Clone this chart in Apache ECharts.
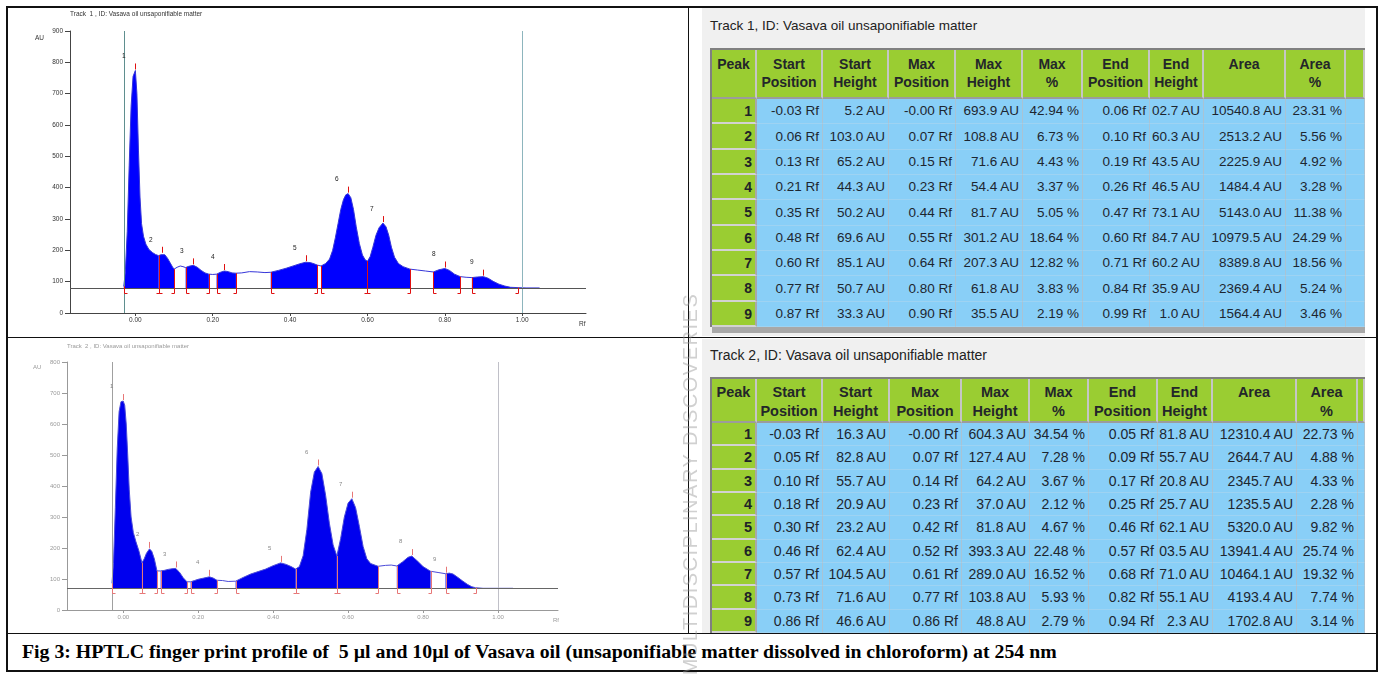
<!DOCTYPE html>
<html><head><meta charset="utf-8"><title>HPTLC finger print profile</title>
<script src="https://cdn.jsdelivr.net/npm/echarts@6.0.0/dist/echarts.min.js"></script>
<style>
html,body{margin:0;padding:0;background:#fff;}
body{width:1381px;height:675px;position:relative;overflow:hidden;font-family:"Liberation Sans",Arial,sans-serif;}
.a{position:absolute;box-sizing:border-box;}
.hd{position:absolute;box-sizing:border-box;background:#9acd32;border-right:2px solid #c6c6c6;border-bottom:2px solid #9c9c9c;font-weight:bold;color:#23262a;text-align:center;white-space:nowrap;}
.pk{position:absolute;box-sizing:border-box;background:#9acd32;border-right:2px solid #a8a8a8;border-bottom:2px solid #d2d2d2;font-weight:bold;color:#1e2328;text-align:right;padding-right:3px;white-space:nowrap;}
.dc{position:absolute;box-sizing:border-box;background:#89cff7;border-right:1px solid #a9c3d4;border-bottom:1px solid #9ed3f2;color:#1d2630;text-align:right;padding-right:3px;white-space:nowrap;}
.ttl{position:absolute;color:#222;white-space:nowrap;}
.line{position:absolute;background:#111;z-index:20;}
</style></head>
<body>
<div id="c1" class="a" style="left:0;top:0;width:689px;height:337px;"></div>
<div id="c2" class="a" style="left:0;top:339px;width:689px;height:294px;"></div>
<div id="tbl1"></div>
<div id="tbl2"></div>
<div class="a" style="left:22px;top:639px;font:bold 19.8px/24px 'Liberation Serif','Times New Roman',serif;color:#000;white-space:pre;z-index:15;">Fig 3: HPTLC finger print profile of  5 µl and 10µl of Vasava oil (unsaponifiable matter dissolved in chloroform) at 254 nm</div>
<div class="a" style="left:6px;top:6px;width:1372px;height:666px;border:2px solid #111;z-index:20;"></div>
<div class="line" style="left:688px;top:7px;width:1px;height:626px;"></div>
<div class="line" style="left:7px;top:337px;width:1370px;height:1px;"></div>
<div class="line" style="left:7px;top:633px;width:1370px;height:1px;"></div>
<div class="a" style="left:490px;top:471px;width:400px;height:26px;line-height:26px;text-align:center;transform:rotate(-90deg);transform-origin:50% 50%;font-size:20px;letter-spacing:1.5px;color:rgba(150,150,150,0.45);z-index:30;white-space:nowrap;">MULTIDISCIPLINARY DISCOVERIES</div>
<script>
// ---------------- DATA ----------------
const peakNumbers = [1, 2, 3, 4, 5, 6, 7, 8, 9];
const headerTop = ['Peak', 'Start', 'Start', 'Max', 'Max', 'Max', 'End', 'End', 'Area', 'Area', ''];
const headerBottom = ['', 'Position', 'Height', 'Position', 'Height', '%', 'Position', 'Height', '', '%', ''];
const xTickValues = [0, 0.2, 0.4, 0.6, 0.8, 1.0];

// Track 1 table (5 µl)
const t1Title = 'Track 1, ID: Vasava oil unsaponifiable matter';
const t1StartPos = ['-0.03', '0.06', '0.13', '0.21', '0.35', '0.48', '0.60', '0.77', '0.87'];
const t1StartH = ['5.2', '103.0', '65.2', '44.3', '50.2', '69.6', '85.1', '50.7', '33.3'];
const t1MaxPos = ['-0.00', '0.07', '0.15', '0.23', '0.44', '0.55', '0.64', '0.80', '0.90'];
const t1MaxH = ['693.9', '108.8', '71.6', '54.4', '81.7', '301.2', '207.3', '61.8', '35.5'];
const t1MaxPct = ['42.94', '6.73', '4.43', '3.37', '5.05', '18.64', '12.82', '3.83', '2.19'];
const t1EndPos = ['0.06', '0.10', '0.19', '0.26', '0.47', '0.60', '0.71', '0.84', '0.99'];
const t1EndH = ['02.7', '60.3', '43.5', '46.5', '73.1', '84.7', '60.2', '35.9', '1.0'];
const t1Area = ['10540.8', '2513.2', '2225.9', '1484.4', '5143.0', '10979.5', '8389.8', '2369.4', '1564.4'];
const t1AreaPct = ['23.31', '5.56', '4.92', '3.28', '11.38', '24.29', '18.56', '5.24', '3.46'];

// Track 2 table (10 µl)
const t2Title = 'Track 2, ID: Vasava oil unsaponifiable matter';
const t2StartPos = ['-0.03', '0.05', '0.10', '0.18', '0.30', '0.46', '0.57', '0.73', '0.86'];
const t2StartH = ['16.3', '82.8', '55.7', '20.9', '23.2', '62.4', '104.5', '71.6', '46.6'];
const t2MaxPos = ['-0.00', '0.07', '0.14', '0.23', '0.42', '0.52', '0.61', '0.77', '0.86'];
const t2MaxH = ['604.3', '127.4', '64.2', '37.0', '81.8', '393.3', '289.0', '103.8', '48.8'];
const t2MaxPct = ['34.54', '7.28', '3.67', '2.12', '4.67', '22.48', '16.52', '5.93', '2.79'];
const t2EndPos = ['0.05', '0.09', '0.17', '0.25', '0.46', '0.57', '0.68', '0.82', '0.94'];
const t2EndH = ['81.8', '55.7', '20.8', '25.7', '62.1', '03.5', '71.0', '55.1', '2.3'];
const t2Area = ['12310.4', '2644.7', '2345.7', '1235.5', '5320.0', '13941.4', '10464.1', '4193.4', '1702.8'];
const t2AreaPct = ['22.73', '4.88', '4.33', '2.28', '9.82', '25.74', '19.32', '7.74', '3.14'];

// Densitogram baselines (AU)
const track1Baseline = 80;
const track2Baseline = 70;

// Densitogram profile of track 1: [Rf, AU]
const track1Profile = [
  [-0.030, 85], [-0.026, 130], [-0.021, 260], [-0.016, 470], [-0.011, 660], [-0.006, 755], [0.000, 774],
  [0.004, 700], [0.008, 520], [0.012, 370], [0.016, 285], [0.021, 245], [0.027, 220], [0.035, 203],
  [0.044, 193], [0.052, 187], [0.060, 183], [0.066, 186], [0.070, 189], [0.076, 186], [0.083, 175],
  [0.090, 160], [0.096, 147], [0.100, 140], [0.108, 146], [0.116, 150], [0.123, 148], [0.130, 145],
  [0.138, 149], [0.150, 152], [0.160, 146], [0.170, 136], [0.180, 128], [0.190, 124], [0.200, 123],
  [0.210, 124], [0.220, 130], [0.230, 134], [0.240, 132], [0.250, 128], [0.260, 127], [0.275, 128],
  [0.295, 132], [0.315, 131], [0.335, 129], [0.350, 130], [0.370, 136], [0.390, 143], [0.410, 151],
  [0.425, 157], [0.440, 162], [0.452, 161], [0.462, 157], [0.470, 153], [0.480, 150], [0.492, 158],
  [0.502, 172], [0.510, 200], [0.517, 240], [0.524, 285], [0.531, 330], [0.538, 362], [0.544, 377],
  [0.550, 381], [0.557, 368], [0.564, 330], [0.571, 275], [0.579, 222], [0.587, 185], [0.594, 170],
  [0.600, 165], [0.607, 180], [0.614, 210], [0.622, 248], [0.630, 272], [0.640, 287], [0.648, 275],
  [0.655, 248], [0.662, 210], [0.670, 178], [0.680, 158], [0.692, 148], [0.710, 140], [0.730, 137],
  [0.750, 134], [0.770, 131], [0.785, 138], [0.800, 142], [0.812, 136], [0.825, 124], [0.840, 116],
  [0.855, 114], [0.870, 113], [0.885, 115], [0.900, 116], [0.912, 111], [0.925, 101], [0.940, 92],
  [0.955, 86], [0.970, 82], [0.990, 81], [1.010, 80], [1.045, 80]
];

// Densitogram profile of track 2: [Rf, AU]
const track2Profile = [
  [-0.030, 86], [-0.026, 150], [-0.021, 330], [-0.016, 520], [-0.011, 640], [-0.006, 672], [0.000, 674],
  [0.004, 660], [0.008, 600], [0.012, 500], [0.016, 390], [0.021, 300], [0.027, 250], [0.034, 220],
  [0.042, 190], [0.050, 152], [0.056, 165], [0.062, 183], [0.070, 197], [0.076, 190], [0.083, 165],
  [0.090, 126], [0.095, 126], [0.100, 126], [0.110, 128], [0.120, 131], [0.130, 133], [0.140, 134],
  [0.150, 122], [0.160, 104], [0.170, 91], [0.175, 90], [0.180, 91], [0.190, 95], [0.200, 99],
  [0.215, 103], [0.230, 107], [0.240, 103], [0.250, 96], [0.265, 95], [0.280, 92], [0.300, 93],
  [0.320, 105], [0.340, 116], [0.360, 124], [0.380, 132], [0.400, 143], [0.420, 152], [0.435, 147],
  [0.448, 140], [0.460, 132], [0.470, 140], [0.480, 175], [0.490, 260], [0.500, 380], [0.510, 445],
  [0.520, 463], [0.530, 440], [0.540, 370], [0.550, 280], [0.560, 210], [0.570, 174], [0.580, 230],
  [0.590, 300], [0.600, 345], [0.610, 359], [0.620, 330], [0.630, 270], [0.640, 205], [0.650, 165],
  [0.660, 150], [0.680, 141], [0.700, 144], [0.715, 145], [0.730, 142], [0.745, 155], [0.760, 170],
  [0.770, 174], [0.785, 158], [0.800, 140], [0.820, 125], [0.840, 121], [0.860, 117], [0.870, 119],
  [0.880, 116], [0.893, 105], [0.905, 94], [0.918, 83], [0.930, 75], [0.940, 72], [0.960, 70],
  [1.000, 70], [1.040, 70]
];

// ---------------- CHARTS ----------------
const FONT = '"Liberation Sans", Arial, sans-serif';
function nearestY(profile, x) {
  let best = profile[0];
  profile.forEach(p => { if (Math.abs(p[0] - x) < Math.abs(best[0] - x)) best = p; });
  return best[1];
}

function makeOption(cfg) {
  const series = [];
  cfg.startPos.forEach((sp, i) => {
    const s = parseFloat(sp), e = parseFloat(cfg.endPos[i]);
    series.push({
      type: 'line', data: cfg.profile.filter(p => p[0] >= s - 1e-9 && p[0] <= e + 1e-9),
      symbol: 'none', silent: true, animation: false, z: 2,
      lineStyle: { width: 0, opacity: 0 },
      areaStyle: { color: cfg.fill, opacity: 1, origin: cfg.baseline }
    });
  });
  series.push({
    type: 'line', data: cfg.profile, symbol: 'none', silent: true, animation: false, z: 3,
    lineStyle: { color: cfg.lineColor, width: 1 },
    markLine: {
      silent: true, symbol: 'none', animation: false, label: { show: false },
      data: [
        { xAxis: parseFloat(cfg.startPos[0]), lineStyle: { color: cfg.vColor1, width: 1, type: 'solid' } },
        { xAxis: xTickValues[xTickValues.length - 1], lineStyle: { color: cfg.vColor2, width: 1, type: 'solid' } },
        { yAxis: cfg.baseline, lineStyle: { color: cfg.baseColor, width: 1, type: 'solid' } }
      ]
    }
  });
  // boundary markers: [Rf, AU on curve, foot direction]
  const bounds = [];
  cfg.startPos.forEach((sp, i) => {
    const s = parseFloat(sp), e = parseFloat(cfg.endPos[i]);
    bounds.push([s, nearestY(cfg.profile, s), 1]);
    bounds.push([e, nearestY(cfg.profile, e), -1]);
  });
  series.push({
    type: 'custom', name: 'bounds', data: bounds, clip: false, z: 6, silent: true, animation: false,
    itemStyle: { color: cfg.red },
    encode: { x: 0, y: 1 },
    renderItem: (params, api) => {
      const bY = Math.round(api.coord([0, cfg.baseline])[1]) + 0.5;
      const p = api.coord([api.value(0), api.value(1)]);
      const x = Math.round(p[0]) + 0.5;
      const d = api.value(2);
      return {
        type: 'polyline',
        shape: { points: [[x, p[1]], [x, bY + 5], [x + 3 * d, bY + 5]] },
        style: { stroke: cfg.red, lineWidth: 1, fill: 'none' }
      };
    }
  });
  // max ticks and peak numbers
  const maxima = cfg.maxPos.map((mp, i) => {
    const m = parseFloat(mp);
    return [m, nearestY(cfg.profile, m), peakNumbers[i]];
  });
  series.push({
    type: 'custom', name: 'maxima', data: maxima, clip: false, z: 6, silent: true, animation: false,
    itemStyle: { color: cfg.red },
    encode: { x: 0, y: 1 },
    renderItem: (params, api) => {
      const m = api.coord([api.value(0), api.value(1)]);
      const x = Math.round(m[0]) + 0.5;
      return {
        type: 'polyline',
        shape: { points: [[x, m[1] - 1], [x, m[1] - 7]] },
        style: { stroke: cfg.red, lineWidth: 1, fill: 'none' },
        textContent: {
          style: { text: String(api.value(2)), fontSize: cfg.small, fill: cfg.labelColor, fontFamily: FONT }
        },
        textConfig: { position: [-11, -8] }
      };
    }
  });
  return {
    backgroundColor: 'transparent',
    animation: false,
    grid: cfg.grid,
    graphic: [
      { type: 'text', left: cfg.titlePos[0], top: cfg.titlePos[1], style: { text: cfg.title, fontSize: cfg.small, fill: cfg.textColor, fontFamily: FONT } },
      { type: 'text', left: cfg.auPos[0], top: cfg.auPos[1], style: { text: 'AU', fontSize: cfg.small, fill: cfg.textColor, fontFamily: FONT } },
      { type: 'text', left: cfg.rfPos[0], top: cfg.rfPos[1], style: { text: 'Rf', fontSize: cfg.small, fill: cfg.textColor, fontFamily: FONT } }
    ],
    xAxis: {
      type: 'value', min: cfg.xMin, max: cfg.xMax,
      axisLine: { show: true, onZero: false, lineStyle: { color: cfg.axisColor, width: 1 } },
      axisTick: { show: true, customValues: xTickValues, length: 3, lineStyle: { color: cfg.axisColor } },
      axisLabel: { customValues: xTickValues, formatter: v => v.toFixed(2), fontSize: cfg.small, color: cfg.textColor, margin: 4, fontFamily: FONT },
      splitLine: { show: false }
    },
    yAxis: {
      type: 'value', min: 0, max: cfg.yMax, interval: 100,
      axisLine: { show: true, onZero: false, lineStyle: { color: cfg.axisColor, width: 1 } },
      axisTick: { show: true, length: 5, lineStyle: { color: cfg.axisColor } },
      axisLabel: { fontSize: cfg.small, color: cfg.textColor, margin: 7, fontFamily: FONT },
      splitLine: { show: false }
    },
    series
  };
}

const chart1 = echarts.init(document.getElementById('c1'), null, { renderer: 'canvas' });
chart1.setOption(makeOption({
  profile: track1Profile, startPos: t1StartPos, endPos: t1EndPos, maxPos: t1MaxPos, baseline: track1Baseline,
  grid: { left: 70, top: 31, width: 516, height: 282 }, xMin: -0.169, xMax: 1.165, yMax: 900,
  title: 'Track  1 , ID: Vasava oil unsaponifiable matter', titlePos: [70, 11], auPos: [35, 35], rfPos: [579, 321],
  fill: '#0000ff', lineColor: '#3535d8', vColor1: '#5f8f8f', vColor2: '#8db5bd', baseColor: '#555',
  red: '#e01010', labelColor: '#222', textColor: '#333', axisColor: '#444', small: 6.5
}));

const chart2 = echarts.init(document.getElementById('c2'), null, { renderer: 'canvas' });
chart2.setOption(makeOption({
  profile: track2Profile, startPos: t2StartPos, endPos: t2EndPos, maxPos: t2MaxPos, baseline: track2Baseline,
  grid: { left: 67, top: 23, width: 491, height: 248 }, xMin: -0.150, xMax: 1.160, yMax: 800,
  title: 'Track  2 , ID: Vasava oil unsaponifiable matter', titlePos: [67, 4], auPos: [33, 25], rfPos: [553, 278],
  fill: '#0000ee', lineColor: '#4a4ad8', vColor1: '#a0a0a0', vColor2: '#c0c0c8', baseColor: '#666',
  red: '#e77777', labelColor: '#888', textColor: '#9a9a9a', axisColor: '#999', small: 6
}));

// ---------------- TABLES ----------------
function buildTable(cfg) {
  const root = document.getElementById(cfg.id);
  const add = (cls, x, y, w, h, html, extra) => {
    const d = document.createElement('div');
    d.className = cls;
    d.style.left = x + 'px'; d.style.top = y + 'px'; d.style.width = w + 'px'; d.style.height = h + 'px';
    if (extra) Object.assign(d.style, extra);
    d.innerHTML = html;
    root.appendChild(d);
    return d;
  };
  add('a', cfg.panel[0], cfg.panel[1], cfg.panel[2], cfg.panel[3], '', { background: '#f0f0f0' });
  add('ttl', cfg.titleX, cfg.titleY, 400, 18, cfg.title, { fontSize: cfg.titleSize + 'px', lineHeight: '18px' });
  const cols = cfg.cols;
  const right = cols[cols.length - 1];
  add('a', cols[0], cfg.hTop - 2, right - cols[0], 2, '', { background: '#808080' });
  add('a', cols[0] - 2, cfg.hTop - 2, 2, cfg.bodyBottom - cfg.hTop + 2, '', { background: '#808080' });
  for (let c = 0; c < cols.length - 1; c++) {
    add('hd', cols[c], cfg.hTop, cols[c + 1] - cols[c], cfg.hBot - cfg.hTop,
      headerTop[c] + '<br>' + headerBottom[c],
      { fontSize: cfg.headSize + 'px', lineHeight: cfg.headLine + 'px', paddingTop: cfg.headPad + 'px' });
  }
  for (let r = 0; r < cfg.rows.length; r++) {
    const y0 = Math.round(cfg.hBot + r * cfg.rowH);
    const y1 = Math.round(cfg.hBot + (r + 1) * cfg.rowH);
    const h = y1 - y0;
    const row = cfg.rows[r];
    for (let c = 0; c < cols.length - 1; c++) {
      const cls = c === 0 ? 'pk' : 'dc';
      add(cls, cols[c], y0, cols[c + 1] - cols[c], h, row[c] === undefined ? '' : row[c],
        { fontSize: (c === 0 ? cfg.pkSize : cfg.dataSize) + 'px', lineHeight: (h - 1) + 'px' });
    }
  }
  if (cfg.band) add('a', cols[0], cfg.bodyBottom, right - cols[0], cfg.band, '', { background: '#a8a8a8' });
}

function rowsOf(sp, sh, mp, mh, mpc, ep, eh, ar, apc) {
  return peakNumbers.map((p, i) => [
    String(p), sp[i] + ' Rf', sh[i] + ' AU', mp[i] + ' Rf', mh[i] + ' AU', mpc[i] + ' %',
    ep[i] + ' Rf', eh[i] + ' AU', ar[i] + ' AU', apc[i] + ' %', ''
  ]);
}

buildTable({
  id: 'tbl1', panel: [702, 8, 663, 328], title: t1Title, titleX: 710, titleY: 17, titleSize: 13.5,
  cols: [712, 757, 823, 889, 956, 1023, 1083, 1150, 1204, 1286, 1346, 1365],
  hTop: 50, hBot: 99, rowH: 25.33, bodyBottom: 327, band: 6,
  headSize: 14, headLine: 18, headPad: 5, dataSize: 13.5, pkSize: 14,
  rows: rowsOf(t1StartPos, t1StartH, t1MaxPos, t1MaxH, t1MaxPct, t1EndPos, t1EndH, t1Area, t1AreaPct)
});
buildTable({
  id: 'tbl2', panel: [702, 339, 663, 294], title: t2Title, titleX: 710, titleY: 346, titleSize: 14,
  cols: [712, 757, 823, 890, 962, 1030, 1089, 1158, 1213, 1297, 1358, 1365],
  hTop: 379, hBot: 423, rowH: 23.33, bodyBottom: 633, band: 0,
  headSize: 14.5, headLine: 18.5, headPad: 4, dataSize: 14, pkSize: 14.5,
  rows: rowsOf(t2StartPos, t2StartH, t2MaxPos, t2MaxH, t2MaxPct, t2EndPos, t2EndH, t2Area, t2AreaPct)
});
</script>
</body></html>
